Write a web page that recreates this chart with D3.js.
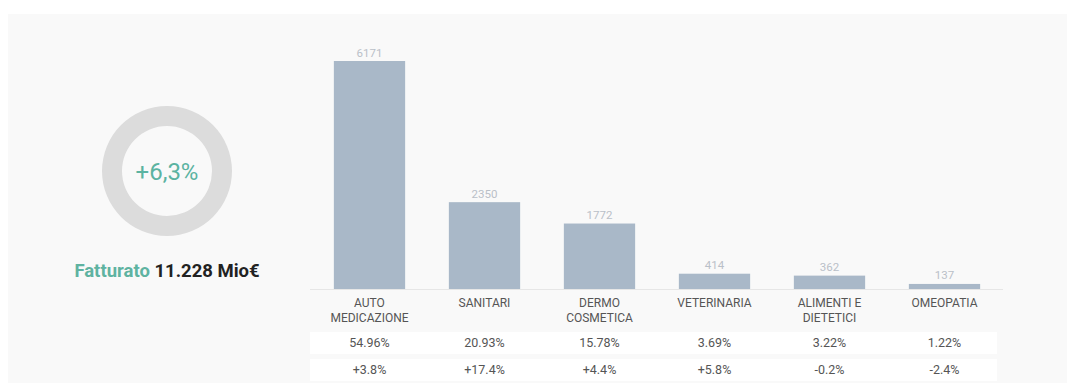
<!DOCTYPE html>
<html>
<head>
<meta charset="utf-8">
<script src="https://cdn.jsdelivr.net/npm/d3@7/dist/d3.min.js"></script>
<style>
  html, body { margin: 0; padding: 0; background: #ffffff; }
  svg { display: block; font-family: Roboto, "Noto Sans", sans-serif; }
</style>
</head>
<body>
<div id="chart"></div>
<script>
// dati
var categories = [["AUTO", "MEDICAZIONE"], ["SANITARI"], ["DERMO", "COSMETICA"], ["VETERINARIA"], ["ALIMENTI E", "DIETETICI"], ["OMEOPATIA"]]
var values = [6171, 2350, 1772, 414, 362, 137]
var shares = ["54.96%", "20.93%", "15.78%", "3.69%", "3.22%", "1.22%"]
var growth = ["+3.8%", "+17.4%", "+4.4%", "+5.8%", "-0.2%", "-2.4%"]
var total_growth = "+6,3%"
var total_label = "Fatturato"
var total_value = "11.228 Mio€"

var width = 1067, height = 383
var svg = d3.select("#chart").append("svg")
    .attr("width", width)
    .attr("height", height)

// pannello di sfondo
svg.append("rect")
    .attr("x", 8).attr("y", 14)
    .attr("width", width - 8).attr("height", height - 14)
    .attr("fill", "#f9f9f9")

// anello
var ring = svg.append("g").attr("transform", "translate(167,171)")
var arc = d3.arc().innerRadius(45).outerRadius(65)
ring.selectAll("path").data(d3.pie()([1]))
    .enter().append("path")
    .attr("d", arc)
    .attr("fill", "#dcdcdc")
ring.append("text")
    .attr("text-anchor", "middle")
    .attr("dy", "0.36em")
    .attr("font-size", 24)
    .attr("fill", "#5bb3a1")
    .text(total_growth)

var tot = svg.append("text")
    .attr("x", 167).attr("y", 277)
    .attr("text-anchor", "middle")
    .attr("font-size", 18.5)
    .attr("font-weight", "bold")
tot.append("tspan").attr("fill", "#5fb3a1").text(total_label + " ")
tot.append("tspan").attr("fill", "#222").text(total_value)

// barre
var baseline = 289
var x = d3.scaleBand()
    .domain(d3.range(values.length))
    .range([312, 1002])
    .paddingInner(0.38)
    .paddingOuter(0.19)
var y = d3.scaleLinear()
    .domain([0, d3.max(values)])
    .range([baseline, 61])

svg.append("line")
    .attr("x1", 310).attr("x2", 1003)
    .attr("y1", baseline + 0.5).attr("y2", baseline + 0.5)
    .attr("stroke", "#e6e6e6")

svg.selectAll(".bar").data(values)
    .enter().append("rect")
    .attr("class", "bar")
    .attr("x", function (d, i) { return x(i) })
    .attr("y", function (d) { return y(d) })
    .attr("width", x.bandwidth())
    .attr("height", function (d) { return baseline - y(d) })
    .attr("fill", "#a9b8c8")

svg.selectAll(".val").data(values)
    .enter().append("text")
    .attr("class", "val")
    .attr("x", function (d, i) { return x(i) + x.bandwidth() / 2 })
    .attr("y", function (d) { return y(d) - 4.5 })
    .attr("text-anchor", "middle")
    .attr("font-size", 11.5)
    .attr("fill", "#b9c0c8")
    .text(function (d) { return d })

var cat = svg.selectAll(".cat").data(categories)
    .enter().append("text")
    .attr("class", "cat")
    .attr("text-anchor", "middle")
    .attr("font-size", 12)
    .attr("fill", "#555")
cat.selectAll("tspan").data(function (d, i) { return d.map(function (t) { return { t: t, i: i } }) })
    .enter().append("tspan")
    .attr("x", function (d) { return x(d.i) + x.bandwidth() / 2 })
    .attr("y", function (d, j) { return 307 + j * 14.5 })
    .text(function (d) { return d.t })

// tabella
var rows = [shares, growth]
var row_y = [332, 359]
rows.forEach(function (row, r) {
    svg.append("rect")
        .attr("x", 310).attr("y", row_y[r])
        .attr("width", 687).attr("height", 22)
        .attr("fill", "#ffffff")
    svg.selectAll(".row" + r).data(row)
        .enter().append("text")
        .attr("class", "row" + r)
        .attr("x", function (d, i) { return x(i) + x.bandwidth() / 2 })
        .attr("y", row_y[r] + 15)
        .attr("text-anchor", "middle")
        .attr("font-size", 12.5)
        .attr("fill", "#555")
        .text(function (d) { return d })
})
</script>
</body>
</html>
